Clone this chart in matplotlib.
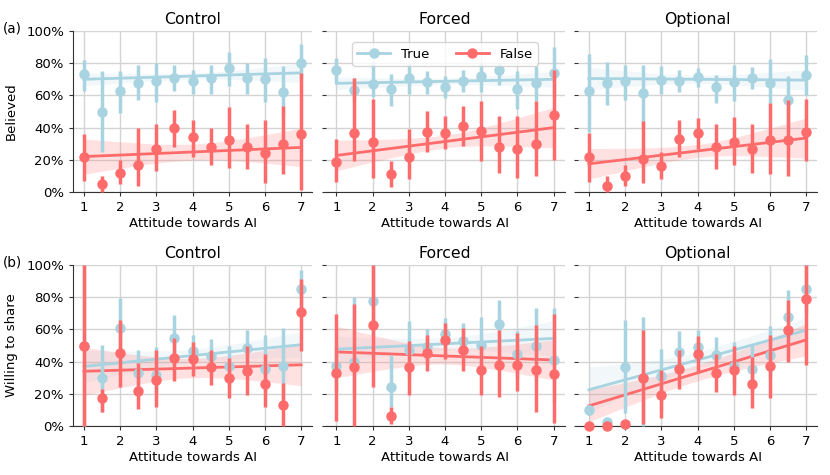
import numpy as np
import matplotlib
matplotlib.use("Agg")
import matplotlib.pyplot as plt
from matplotlib.lines import Line2D
from matplotlib.ticker import FuncFormatter

plt.rcParams['font.family'] = ['DejaVu Sans']
plt.rcParams['font.size'] = 9.5

attitude = [1, 1.5, 2, 2.5, 3, 3.5, 4, 4.5, 5, 5.5, 6, 6.5, 7]
conditions = ["Control", "Forced", "Optional"]
row_labels = ["Believed", "Willing to share"]
row_tags = ["(a)", "(b)"]
series_names = ["True", "False"]
colors = ["#a8d3e0", "#ff6b6b"]

# ---- Believed (percent) ----
bel_control_true = [73, 50, 63, 68, 69, 71, 69, 71, 77, 71, 70, 62, 80]
bel_control_true_lo = [63, 25, 49, 57, 56, 63, 61, 61, 66, 61, 56, 47, 70]
bel_control_true_hi = [82, 75, 75, 79, 80, 79, 76, 79, 87, 80, 83, 78, 92]
bel_control_false = [21.5, 5, 11.5, 17, 27, 39.5, 34, 28, 32, 28, 24, 30, 36]
bel_control_false_lo = [7, 0, 5, 3.5, 13, 28, 22, 16.5, 15, 14.5, 5.5, 11, 1.5]
bel_control_false_hi = [36, 10, 20, 40, 42, 51, 45, 40, 53, 42, 45, 53.5, 74]

bel_forced_true = [76, 63.5, 67, 64, 71, 68.5, 65.5, 69, 72, 75.5, 64, 67.5, 74]
bel_forced_true_lo = [68, 56, 59, 53.5, 61, 61, 58.5, 62, 62, 66.5, 51.5, 56.5, 59]
bel_forced_true_hi = [83, 71, 81, 73, 80, 75, 72, 75.5, 80, 80.5, 75, 78, 90]
bel_forced_false = [18.5, 36.5, 31, 11, 21.5, 37, 36.5, 41, 38, 28, 27, 30, 48]
bel_forced_false_lo = [6.5, 19, 8.5, 3, 8, 25, 26.5, 28.5, 19, 12, 9, 10, 20]
bel_forced_false_hi = [33, 70.5, 58, 19.5, 39, 50.5, 47.5, 53.5, 56.5, 47, 47, 56.5, 76]

bel_optional_true = [62.5, 68, 69, 61.5, 69.5, 69, 71.5, 65, 68.5, 70.5, 67.5, 57, 72.5]
bel_optional_true_lo = [37.5, 54, 57, 39, 61, 62, 65, 55, 56.5, 64, 55, 38, 60]
bel_optional_true_hi = [86, 80.5, 79, 79, 78, 76, 77, 72.5, 79, 77.5, 82.5, 72, 85]
bel_optional_false = [21.5, 3.5, 10, 20.5, 16, 33, 36.5, 28, 31, 27, 32, 32.5, 37.5]
bel_optional_false_lo = [6.5, 0, 4, 5.5, 8, 22, 27, 14, 17, 12, 11, 10, 19]
bel_optional_false_hi = [36.5, 10, 16.5, 44, 25, 45, 46, 42, 46.5, 42.5, 55, 57, 57.5]

# ---- Willing to share (percent) ----
shr_control_true = [50, 30, 61, 33, 31.5, 54.5, 46.5, 43.5, 37, 48.5, 35.5, 37, 85]
shr_control_true_lo = [0, 9, 40, 20, 20, 38, 36, 33, 24, 37, 20, 13, 69]
shr_control_true_hi = [100, 50.5, 79.5, 47.5, 49, 69, 56.5, 54, 50, 59.5, 56.5, 61, 97]
shr_control_false = [50, 17.5, 45.5, 21.5, 28.5, 42, 41.5, 36.5, 30, 34, 26, 13, 70.5]
shr_control_false_lo = [0, 9, 24, 10.5, 12, 28, 31, 25.5, 17.5, 19, 12, 0, 46.5]
shr_control_false_hi = [100, 23, 66, 39, 47, 54.5, 52, 47, 42, 50, 44.5, 27, 91.5]

shr_forced_true = [37, 40, 77.5, 24, 47.5, 49, 57, 53, 50.5, 63.5, 44.5, 50, 41]
shr_forced_true_lo = [22, 20, 55, 12, 30, 38, 47, 42, 33, 48, 30, 28, 15]
shr_forced_true_hi = [50, 80, 100, 44, 65, 60, 67, 64, 68, 78, 59, 73.5, 73.5]
shr_forced_false = [33, 36.5, 62.5, 6, 36.5, 45.5, 53.5, 47, 34.5, 38, 38, 34.5, 32]
shr_forced_false_lo = [3, 0, 24, 1, 19.5, 34, 41.5, 34, 19.5, 18, 21.5, 9, 2]
shr_forced_false_hi = [69.5, 75.5, 100, 12, 52.5, 56.5, 64, 61, 50, 59.5, 57.5, 63, 69.5]

shr_optional_true = [10, 2.5, 36.5, 30, 31, 46, 49, 44, 37.5, 35.5, 44, 68, 85]
shr_optional_true_lo = [7, 0, 8, 0, 10, 35, 40, 30, 25, 20, 30, 53, 70]
shr_optional_true_hi = [13, 4, 66, 68, 48, 59, 59.5, 55.5, 52, 51, 62, 84.5, 100]
shr_optional_false = [0, 0, 1, 30, 19.5, 35.5, 44.5, 33, 34.5, 26, 37.5, 59.5, 79]
shr_optional_false_lo = [0, 0, 0, 1, 5, 23, 33, 21, 19.5, 11, 17.5, 40, 38]
shr_optional_false_hi = [0, 0, 2, 59.5, 35, 47.5, 56, 44.5, 49.5, 43, 56.5, 78, 100]

# regression fits: value at x=1 and x=7, CI half-width at x=1, middle, x=7
fit_ends = {
    (0, 0): [(70, 74), (22, 27.7)],
    (0, 1): [(67.5, 70), (22.7, 40)],
    (0, 2): [(70.5, 69.5), (17.5, 33.5)],
    (1, 0): [(37, 50.5), (34, 38)],
    (1, 1): [(47.7, 54.4), (46, 41)],
    (1, 2): [(22.5, 59.5), (12.5, 53.5)],
}
fit_ci = {
    (0, 0): [(4, 2, 6), (11, 5, 12)],
    (0, 1): [(4, 2, 5), (9.5, 4, 12.5)],
    (0, 2): [(7, 2.5, 6.5), (9.5, 4, 12.5)],
    (1, 0): [(10, 4, 8), (15, 6, 13)],
    (1, 1): [(8, 4, 11), (16, 5, 12.5)],
    (1, 2): [(14, 5, 8), (10, 5, 10)],
}

panels = {
    (0, 0): [(bel_control_true, bel_control_true_lo, bel_control_true_hi),
             (bel_control_false, bel_control_false_lo, bel_control_false_hi)],
    (0, 1): [(bel_forced_true, bel_forced_true_lo, bel_forced_true_hi),
             (bel_forced_false, bel_forced_false_lo, bel_forced_false_hi)],
    (0, 2): [(bel_optional_true, bel_optional_true_lo, bel_optional_true_hi),
             (bel_optional_false, bel_optional_false_lo, bel_optional_false_hi)],
    (1, 0): [(shr_control_true, shr_control_true_lo, shr_control_true_hi),
             (shr_control_false, shr_control_false_lo, shr_control_false_hi)],
    (1, 1): [(shr_forced_true, shr_forced_true_lo, shr_forced_true_hi),
             (shr_forced_false, shr_forced_false_lo, shr_forced_false_hi)],
    (1, 2): [(shr_optional_true, shr_optional_true_lo, shr_optional_true_hi),
             (shr_optional_false, shr_optional_false_lo, shr_optional_false_hi)],
}

W, H = 830, 475
fig = plt.figure(figsize=(W / 100, H / 100), dpi=100)

col_left = [73, 325.5, 578]
row_bottom = [283, 49]
ax_w, ax_h = 239, 161

xs = np.linspace(1, 7, 100)
band_alpha = [0.15, 0.2]


def ci_width(x, h1, hm, h7):
    t = (x - 4) / 3
    left = np.sqrt(hm ** 2 + (h1 ** 2 - hm ** 2) * t ** 2)
    right = np.sqrt(hm ** 2 + (h7 ** 2 - hm ** 2) * t ** 2)
    return np.where(x < 4, left, right)


axes = {}
for r in range(2):
    for c in range(3):
        ax = fig.add_axes([col_left[c] / W, row_bottom[r] / H, ax_w / W, ax_h / H])
        axes[(r, c)] = ax
        ax.set_axisbelow(True)
        ax.grid(True, color="#d4d4d4", linewidth=1)
        for s in ["top", "right"]:
            ax.spines[s].set_visible(False)
        ax.spines["bottom"].set_color("#333333")
        ax.spines["left"].set_color("#333333")
        if c > 0:
            ax.spines["left"].set_visible(False)
            ax.tick_params(axis="y", length=0, labelleft=False)

        for k in range(2):
            y1, y7 = fit_ends[(r, c)][k]
            fit = y1 + (y7 - y1) * (xs - 1) / 6
            hw = ci_width(xs, *fit_ci[(r, c)][k])
            ax.fill_between(xs, fit - hw, fit + hw, color=colors[k],
                            alpha=band_alpha[k], linewidth=0, zorder=1)
            ax.plot(xs, fit, color=colors[k], lw=2, zorder=2 + k)
        for k in range(2):
            mean, lo, hi = panels[(r, c)][k]
            mean = np.array(mean)
            yerr = [mean - np.array(lo), np.array(hi) - mean]
            ax.errorbar(attitude, mean, yerr=yerr, fmt="o", color=colors[k],
                        ms=6.5, elinewidth=2.5, capsize=0, zorder=4 + k,
                        clip_on=False)

        ax.set_xlim(0.7, 7.3)
        ax.set_ylim(0, 100)
        ax.set_xticks([1, 2, 3, 4, 5, 6, 7])
        ax.set_yticks([0, 20, 40, 60, 80, 100])
        ax.yaxis.set_major_formatter(FuncFormatter(lambda v, p: f"{v:.0f}%"))
        ax.tick_params(labelsize=9.5, color="#333333", length=3)
        ax.set_xlabel("Attitude towards AI", labelpad=2)
        ax.set_title(conditions[c], fontsize=11.3, pad=5)
        if c == 0:
            ax.set_ylabel(row_labels[r], labelpad=6)

for r in range(2):
    top = (row_bottom[r] + ax_h) / H
    fig.text(3 / W, top + 2 / H, row_tags[r], va="center", ha="left", fontsize=9.8)

handles = [Line2D([0], [0], color=colors[k], marker="o", ms=6.5, lw=2)
           for k in range(2)]
axes[(0, 1)].legend(handles, series_names, loc="upper center", ncol=2,
                    fontsize=9.5, frameon=True, borderpad=0.4,
                    bbox_to_anchor=(0.5, 0.97), columnspacing=2.0,
                    handlelength=2.5)

fig.savefig("out.png", dpi=100)
